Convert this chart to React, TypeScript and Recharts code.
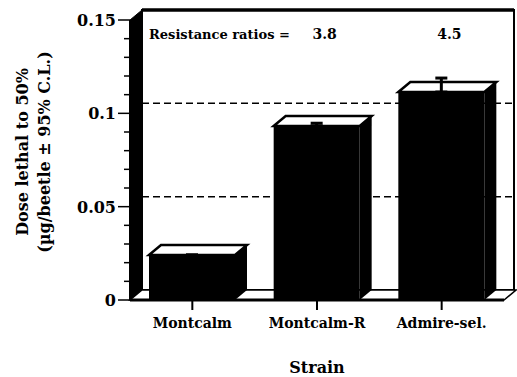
import { Bar, BarChart, ErrorBar, LabelList, ReferenceArea, ReferenceLine, XAxis, YAxis } from "recharts";

const strains = ["Montcalm", "Montcalm-R", "Admire-sel."];
const ld50 = [0.0241, 0.0932, 0.1114];
const upperCI = [0, 0.0015, 0.0075];
const ratios = [null, 3.8, 4.5];
const ratioCaption = "Resistance ratios =";
const majorTicks = [0, 0.05, 0.1, 0.15];
const minorTicks = [0.01, 0.02, 0.03, 0.04, 0.06, 0.07, 0.08, 0.09, 0.11, 0.12, 0.13, 0.14];
const gridLines = [0.05, 0.1];

const data = strains.map((strain, i) => ({
  strain,
  ld50: ld50[i],
  ci: [0, upperCI[i]],
  ratio: ratios[i],
}));

// fake 3d depth of the box and bars
const DX = 12;
const DY = 10;
const FONT = "'DejaVu Serif', serif";

function Bar3D(props: any) {
  const { x, y, width, height } = props;
  if (!height || height <= 0) return null;
  const r = x + width;
  const b = y + height;
  return (
    <g>
      <rect x={x} y={y} width={width} height={height} fill="#000" />
      <polygon points={`${r},${y} ${r + DX},${y - DY} ${r + DX},${b - DY} ${r},${b}`} fill="#000" />
      <polygon
        points={`${x},${y} ${x + DX},${y - DY} ${r + DX},${y - DY} ${r},${y}`}
        fill="#fff"
        stroke="#000"
        strokeWidth={2.5}
      />
    </g>
  );
}

function Walls(props: any) {
  const { x, y, width, height } = props;
  const b = y + height;
  const w = width - 2;
  return (
    <g>
      <rect x={x + DX} y={y - DY} width={w} height={height} fill="#fff" stroke="#000" strokeWidth={2} />
      <line x1={x + DX} y1={y - DY} x2={x + DX + w} y2={y - DY} stroke="#000" strokeWidth={3.5} />
      <polygon points={`${x},${b} ${x},${y} ${x + DX},${y - DY} ${x + DX},${b - DY}`} fill="#000" stroke="#000" />
      <polygon
        points={`${x},${b} ${x + width},${b} ${x + width + DX},${b - DY} ${x + DX},${b - DY}`}
        fill="#fff"
        stroke="#000"
        strokeWidth={1.5}
      />
    </g>
  );
}

function BackGridLine(props: any) {
  const { x1, y1, x2, y2 } = props;
  return (
    <line
      x1={x1 + DX}
      y1={y1 - DY}
      x2={x2 + DX - 2}
      y2={y2 - DY}
      stroke="#000"
      strokeWidth={1.5}
      strokeDasharray="7 4"
    />
  );
}

function YTick(props: any) {
  const { x, y, payload } = props;
  const major = majorTicks.includes(payload.value);
  return (
    <g>
      <line x1={x - (major ? 12 : 6)} x2={x} y1={y} y2={y} stroke="#000" strokeWidth={1.5} />
      {major && (
        <text x={x - 14} y={y} dy={6} textAnchor="end" fontFamily={FONT} fontWeight="bold" fontSize={16} fill="#000">
          {String(payload.value)}
        </text>
      )}
    </g>
  );
}

function XTick(props: any) {
  const { x, y, payload } = props;
  return (
    <text x={x} y={y} dy={16} textAnchor="middle" fontFamily={FONT} fontWeight="bold" fontSize={14} fill="#000">
      {payload.value}
    </text>
  );
}

function RatioLabel(props: any) {
  const vb = props.viewBox ?? props;
  const { x, width } = vb;
  if (props.index === 0) {
    return (
      <text x={x} y={39} fontFamily={FONT} fontWeight="bold" fontSize={13} fill="#000">
        {ratioCaption}
      </text>
    );
  }
  if (props.value == null) return null;
  return (
    <text x={x + width / 2 + 8} y={39} textAnchor="middle" fontFamily={FONT} fontWeight="bold" fontSize={14} fill="#000">
      {String(props.value)}
    </text>
  );
}

function YTitle() {
  return (
    <g fontFamily={FONT} fontWeight="bold" fontSize={16} fill="#000">
      <text x={28} y={152} textAnchor="middle" transform="rotate(-90, 28, 152)">
        Dose lethal to 50%
      </text>
      <text x={50} y={152} textAnchor="middle" transform="rotate(-90, 50, 152)">
        (µg/beetle ± 95% C.L.)
      </text>
    </g>
  );
}

function XTitle(props: any) {
  const { x, width } = props.viewBox;
  return (
    <text x={x + width / 2} y={373} textAnchor="middle" fontFamily={FONT} fontWeight="bold" fontSize={16} fill="#000">
      Strain
    </text>
  );
}

export default function App() {
  return (
    <div style={{ position: "absolute", left: 0, top: 0, width: 517, height: 377, background: "#fff" }}>
      <BarChart width={517} height={377} data={data} margin={{ top: 20, right: 13, bottom: 47, left: 70 }}>
        <ReferenceArea y1={0} y2={0.15} shape={Walls} zIndex={-20} ifOverflow="visible" />
        {gridLines.map((v) => (
          <ReferenceLine key={v} y={v} shape={BackGridLine} zIndex={-10} ifOverflow="visible" />
        ))}
        <XAxis
          dataKey="strain"
          tick={XTick}
          tickSize={10}
          tickLine={{ stroke: "#000", strokeWidth: 2 }}
          axisLine={{ stroke: "#000", strokeWidth: 3 }}
          label={{ content: XTitle }}
        />
        <YAxis
          domain={[0, 0.15]}
          ticks={[...majorTicks, ...minorTicks]}
          interval={0}
          tick={YTick}
          tickLine={false}
          tickSize={0}
          tickMargin={0}
          axisLine={{ stroke: "#000", strokeWidth: 2 }}
          label={{ content: YTitle }}
        />
        <Bar dataKey="ld50" barSize={86} shape={Bar3D} isAnimationActive={false}>
          <ErrorBar dataKey="ci" width={6} strokeWidth={3} stroke="#000" direction="y" isAnimationActive={false} />
          <LabelList dataKey="ratio" content={RatioLabel} />
        </Bar>
      </BarChart>
    </div>
  );
}
